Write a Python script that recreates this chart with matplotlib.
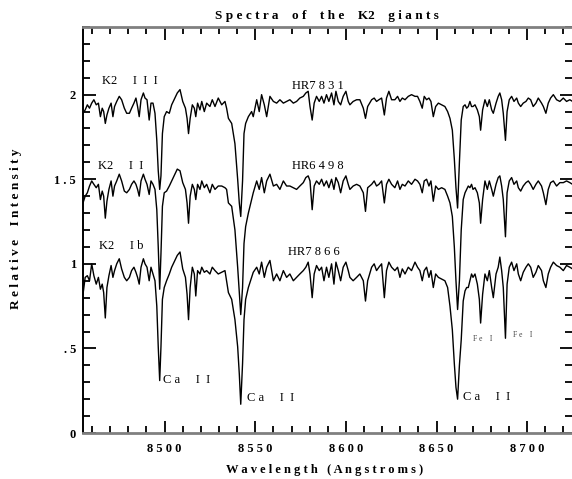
import matplotlib
matplotlib.use('Agg')
import matplotlib.pyplot as plt
from matplotlib.ticker import MultipleLocator, FixedLocator, FixedFormatter

plt.rcParams['font.family'] = ['Liberation Serif', 'DejaVu Serif']

wavelength = [
    8455.0, 8456.2, 8457.4, 8458.6, 8459.8, 8461.0, 8462.3, 8463.5, 8464.6, 8465.6,
    8466.4, 8467.3, 8468.2, 8469.3, 8470.5, 8471.5, 8472.4, 8473.6, 8475.0, 8476.3,
    8477.8, 8479.1, 8480.6, 8481.8, 8483.1, 8484.2, 8485.1, 8486.0, 8487.0, 8488.3,
    8489.2, 8490.3, 8491.5, 8492.5, 8493.6, 8494.7, 8495.7, 8496.5, 8497.3, 8498.0,
    8498.8, 8499.8, 8501.1, 8502.6, 8503.9, 8505.7, 8507.0, 8508.5, 8510.0, 8511.5,
    8512.4, 8513.2, 8514.1, 8515.3, 8516.4, 8517.2, 8518.2, 8519.5, 8520.5, 8521.9,
    8523.2, 8525.0, 8526.3, 8527.8, 8529.6, 8531.5, 8533.3, 8534.2, 8535.2, 8537.0,
    8538.8, 8540.3, 8541.2, 8542.0, 8543.0, 8543.8, 8544.7, 8546.2, 8548.0, 8548.9,
    8550.8, 8552.2, 8553.5, 8555.0, 8556.3, 8558.1, 8560.0, 8561.8, 8563.6, 8565.5,
    8567.3, 8569.1, 8571.0, 8572.8, 8574.6, 8576.5, 8577.9, 8579.2, 8580.2, 8581.4,
    8582.5, 8583.8, 8585.3, 8586.6, 8587.9, 8589.3, 8590.6, 8592.1, 8593.4, 8594.5,
    8595.8, 8597.1, 8598.5, 8600.0, 8601.3, 8602.2, 8604.0, 8605.9, 8607.7, 8609.6,
    8610.8, 8612.0, 8614.2, 8615.6, 8616.9, 8618.2, 8619.7, 8621.2, 8622.4, 8623.7,
    8625.2, 8627.0, 8628.5, 8629.8, 8631.1, 8632.6, 8634.4, 8636.2, 8638.1, 8639.5,
    8640.8, 8642.1, 8643.2, 8644.5, 8645.8, 8646.9, 8648.2, 8649.5, 8651.0, 8652.8,
    8654.6, 8656.1, 8657.4, 8658.7, 8659.8, 8660.7, 8661.6, 8662.6, 8663.6, 8664.7,
    8665.7, 8666.6, 8667.5, 8668.4, 8669.3, 8670.1, 8671.2, 8672.5, 8673.6, 8674.3,
    8675.4, 8676.7, 8678.0, 8679.1, 8680.4, 8681.3, 8682.8, 8684.0, 8684.9, 8685.9,
    8686.8, 8688.0, 8688.9, 8690.1, 8691.4, 8692.7, 8694.2, 8695.1, 8696.4, 8697.8,
    8699.3, 8700.6, 8701.9, 8703.3, 8704.8, 8706.1, 8707.9, 8708.9, 8710.3, 8711.6,
    8712.9, 8714.4, 8716.2, 8718.0, 8719.9, 8721.7, 8723.5, 8725.0,
]

hr7831 = [
    1.89, 1.91, 1.94, 1.92, 1.95, 1.97, 1.94, 1.95, 1.87, 1.92,
    1.90, 1.83, 1.88, 1.92, 1.95, 1.87, 1.93, 1.96, 1.99, 1.97,
    1.92, 1.89, 1.89, 1.92, 1.95, 1.98, 1.93, 1.87, 1.97, 2.01,
    1.98, 1.97, 1.85, 1.95, 1.95, 1.89, 1.73, 1.55, 1.44, 1.52,
    1.77, 1.87, 1.90, 1.89, 1.94, 1.98, 2.01, 2.03, 1.96, 1.92,
    1.86, 1.77, 1.86, 1.94, 1.92, 1.87, 1.95, 1.91, 1.96, 1.90,
    1.95, 1.93, 1.97, 1.93, 1.98, 1.94, 1.96, 1.92, 1.86, 1.83,
    1.71, 1.50, 1.36, 1.28, 1.49, 1.77, 1.83, 1.87, 1.90, 1.87,
    1.97, 1.90, 2.00, 1.94, 1.87, 1.99, 1.96, 1.95, 1.97, 1.95,
    1.96, 1.97, 1.95, 1.96, 1.98, 1.99, 2.01, 2.02, 1.93, 1.85,
    1.95, 1.99, 1.96, 1.99, 1.95, 2.00, 1.96, 2.01, 1.94, 2.02,
    1.96, 1.94, 1.99, 2.02, 1.96, 1.94, 1.96, 1.97, 1.97, 1.92,
    1.86, 1.93, 1.97, 1.98, 1.96, 1.97, 1.98, 1.88, 1.98, 2.02,
    1.97, 1.97, 1.99, 1.96, 1.98, 1.97, 1.99, 2.00, 1.99, 1.99,
    1.96, 1.92, 1.99, 1.97, 1.98, 1.96, 1.87, 1.93, 1.95, 1.94,
    1.93, 1.90, 1.86, 1.79, 1.62, 1.45, 1.33, 1.60, 1.85, 1.93,
    1.94, 1.92, 1.93, 1.96, 1.93, 1.93, 1.94, 1.91, 1.87, 1.79,
    1.91, 1.97, 1.93, 1.97, 1.91, 1.89, 1.95, 1.99, 2.01, 1.97,
    1.89, 1.73, 1.90, 1.97, 1.99, 1.96, 1.98, 1.95, 1.93, 1.95,
    1.96, 1.98, 1.97, 1.93, 1.95, 1.98, 1.95, 1.93, 1.89, 1.95,
    1.98, 2.00, 1.97, 1.96, 1.98, 1.96, 1.97, 1.96,
]

hr6498 = [
    1.36, 1.40, 1.42, 1.46, 1.49, 1.47, 1.45, 1.47, 1.38, 1.43,
    1.40, 1.27, 1.37, 1.44, 1.49, 1.40, 1.46, 1.49, 1.53, 1.49,
    1.43, 1.42, 1.44, 1.47, 1.49, 1.47, 1.44, 1.40, 1.49, 1.53,
    1.50, 1.47, 1.41, 1.49, 1.47, 1.44, 1.32, 1.10, 0.85, 1.06,
    1.34, 1.42, 1.43, 1.46, 1.49, 1.53, 1.56, 1.55, 1.48, 1.44,
    1.36, 1.24, 1.40, 1.47, 1.44, 1.38, 1.47, 1.44, 1.49, 1.45,
    1.47, 1.42, 1.47, 1.44, 1.46, 1.46, 1.45, 1.44, 1.36, 1.34,
    1.20, 0.98, 0.83, 0.70, 0.86, 1.12, 1.22, 1.30, 1.38, 1.42,
    1.49, 1.44, 1.51, 1.42, 1.49, 1.53, 1.46, 1.47, 1.44, 1.49,
    1.46, 1.46, 1.45, 1.44, 1.46, 1.48, 1.51, 1.52, 1.49, 1.32,
    1.46, 1.49, 1.47, 1.50, 1.46, 1.49, 1.45, 1.50, 1.44, 1.51,
    1.48, 1.42, 1.49, 1.52, 1.47, 1.44, 1.46, 1.47, 1.46, 1.42,
    1.31, 1.45, 1.47, 1.49, 1.46, 1.47, 1.49, 1.36, 1.47, 1.50,
    1.47, 1.45, 1.49, 1.44, 1.47, 1.46, 1.49, 1.47, 1.50, 1.49,
    1.47, 1.42, 1.49, 1.50, 1.46, 1.49, 1.37, 1.46, 1.44, 1.45,
    1.44, 1.40, 1.36, 1.28, 1.10, 0.90, 0.73, 0.90, 1.20, 1.38,
    1.42, 1.44, 1.46, 1.45, 1.47, 1.44, 1.45, 1.42, 1.36, 1.24,
    1.38, 1.49, 1.44, 1.49, 1.44, 1.40, 1.47, 1.51, 1.52, 1.46,
    1.38, 1.16, 1.42, 1.49, 1.51, 1.47, 1.49, 1.45, 1.43, 1.46,
    1.48, 1.49, 1.47, 1.44, 1.47, 1.49, 1.46, 1.42, 1.35, 1.44,
    1.48, 1.49, 1.46, 1.48, 1.48, 1.49, 1.48, 1.47,
]

hr7866 = [
    0.82, 0.92, 0.93, 0.90, 1.00, 0.93, 0.88, 0.92, 0.85, 0.88,
    0.83, 0.68, 0.86, 0.93, 0.99, 0.92, 0.96, 1.00, 1.03, 0.97,
    0.92, 0.90, 0.92, 0.96, 0.98, 0.95, 0.92, 0.88, 0.98, 1.03,
    1.00, 0.98, 0.90, 0.98, 0.94, 0.90, 0.75, 0.51, 0.31, 0.51,
    0.79, 0.86, 0.90, 0.94, 0.98, 1.02, 1.05, 1.07, 0.97, 0.92,
    0.82, 0.67, 0.86, 0.98, 0.94, 0.81, 0.96, 0.94, 0.98, 0.95,
    0.96, 0.94, 0.98, 0.96, 0.94, 0.95, 0.96, 0.90, 0.83, 0.79,
    0.67, 0.51, 0.35, 0.17, 0.41, 0.67, 0.79, 0.86, 0.92, 0.95,
    0.98, 0.94, 1.01, 0.92, 0.98, 1.02, 0.90, 0.94, 0.90, 0.96,
    0.92, 0.94, 0.90, 0.92, 0.94, 0.96, 0.98, 1.01, 0.94, 0.80,
    0.94, 0.99, 0.96, 0.98, 0.90, 0.98, 0.92, 1.00, 0.88, 1.01,
    0.96, 0.90, 0.98, 1.01, 0.96, 0.92, 0.90, 0.92, 0.94, 0.90,
    0.78, 0.90, 0.98, 1.00, 0.96, 0.98, 1.00, 0.80, 0.96, 1.01,
    0.98, 0.96, 0.98, 0.92, 0.97, 0.94, 0.98, 0.96, 1.01, 0.98,
    0.96, 0.90, 0.96, 0.98, 0.92, 0.96, 0.86, 0.94, 0.92, 0.91,
    0.90, 0.86, 0.75, 0.61, 0.41, 0.27, 0.20, 0.40, 0.55, 0.78,
    0.84, 0.86, 0.86, 0.90, 0.94, 0.92, 0.94, 0.88, 0.79, 0.65,
    0.82, 0.94, 0.90, 0.96, 0.86, 0.80, 0.94, 0.98, 1.04, 0.96,
    0.86, 0.56, 0.88, 0.98, 1.01, 0.96, 1.00, 0.94, 0.90, 0.95,
    0.98, 1.00, 0.98, 0.92, 0.95, 0.99, 0.96, 0.90, 0.86, 0.94,
    0.98, 1.01, 0.99, 0.98, 0.96, 0.99, 0.98, 0.97,
]

x_major = [8500, 8550, 8600, 8650, 8700]
x_labels = ['8 5 0 0', '8 5 5 0', '8 6 0 0', '8 6 5 0', '8 7 0 0']
y_major = [0, 0.5, 1.0, 1.5, 2.0]
y_labels = ['0', '. 5', '1', '1 . 5', '2']

W, H = 572, 479
fig = plt.figure(figsize=(W / 100, H / 100), dpi=100)
ax = fig.add_axes([83 / W, 46 / H, (W - 83) / W, (433 - 27) / H])

for spec in (hr7831, hr6498, hr7866):
    ax.plot(wavelength, spec, color='black', lw=1.0, solid_joinstyle='round')

ax.set_xlim(8455, 8724.7)
ax.set_ylim(0, 2.4)

ax.xaxis.set_major_locator(FixedLocator(x_major))
ax.xaxis.set_major_formatter(FixedFormatter(x_labels))
ax.xaxis.set_minor_locator(MultipleLocator(10))
ax.yaxis.set_major_locator(FixedLocator(y_major))
ax.yaxis.set_major_formatter(FixedFormatter(y_labels))
ax.yaxis.set_minor_locator(MultipleLocator(0.1))

ax.tick_params(which='both', direction='in', top=True, right=True,
               colors='black', width=1.3)
ax.tick_params(which='major', length=9)
ax.tick_params(which='minor', length=4.8)
ax.tick_params(axis='x', which='major', pad=7, labelsize=9)
ax.tick_params(axis='y', which='major', pad=5, labelsize=9)
for lab in ax.get_xticklabels() + ax.get_yticklabels():
    lab.set_fontweight('bold')

ax.spines['left'].set_color('black')
ax.spines['left'].set_linewidth(1.4)
ax.spines['bottom'].set_color('#808080')
ax.spines['bottom'].set_linewidth(2.0)
ax.spines['top'].set_color('#808080')
ax.spines['top'].set_linewidth(2.0)
ax.spines['right'].set_visible(False)

ann = dict(fontsize=9, va='center', ha='left', color='black')
ax.text(8465.3, 2.081, 'K2     I  I  I', **ann)
ax.text(8463.0, 1.580, 'K2     I  I', **ann)
ax.text(8464.0, 1.103, 'K2     I b', **ann)
ax.text(8570.1, 2.053, 'HR7 8 3 1', **ann)
ax.text(8570.1, 1.580, 'HR6 4 9 8', **ann)
ax.text(8567.9, 1.069, 'HR7 8 6 6', **ann)
ax.text(8499.3, 0.311, 'C a     I  I', **ann)
ax.text(8545.3, 0.207, 'C a     I  I', **ann)
ax.text(8664.4, 0.213, 'C a     I  I', **ann)
ax.text(8670.3, 0.555, 'F e    I', fontsize=5.5, va='center', ha='left', color='#444444')
ax.text(8692.0, 0.579, 'F e    I', fontsize=5.5, va='center', ha='left', color='#444444')

fig.text(0.571, 0.967, 'S p e c t r a    o f    t h e    K2    g i a n t s',
         ha='center', va='center', fontsize=9.5, fontweight='bold')
fig.text(0.568, 0.018, 'W a v e l e n g t h   ( A n g s t r o m s )',
         ha='center', va='center', fontsize=9, fontweight='bold')
fig.text(0.028, 0.522, 'R e l a t i v e    I n t e n s i t y',
         ha='center', va='center', rotation=90, fontsize=9.5, fontweight='bold')

fig.savefig('out.png', dpi=100)
